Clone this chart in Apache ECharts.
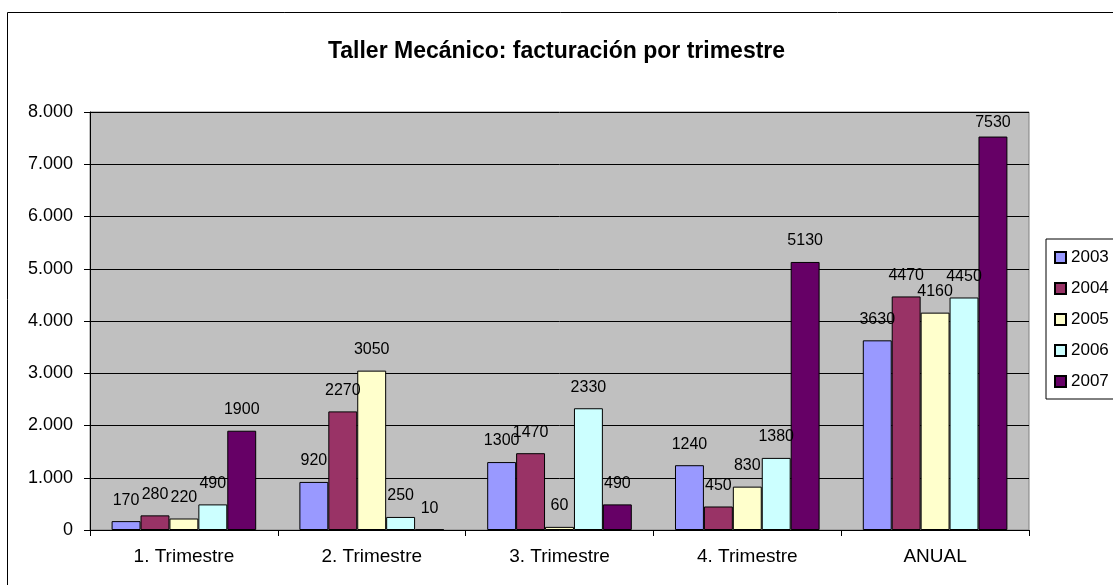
<!DOCTYPE html>
<html>
<head>
<meta charset="utf-8">
<script src="https://cdn.jsdelivr.net/npm/echarts@6/dist/echarts.min.js"></script>
<style>
  html, body { margin: 0; padding: 0; background: #fff; }
  #chart { width: 1113px; height: 585px; }
</style>
</head>
<body>
<div id="chart"></div>
<script>
// Facturación del taller por trimestre y año
const categories = ['1. Trimestre', '2. Trimestre', '3. Trimestre', '4. Trimestre', 'ANUAL'];
const years = ['2003', '2004', '2005', '2006', '2007'];
const v2003 = [170, 920, 1300, 1240, 3630];
const v2004 = [280, 2270, 1470, 450, 4470];
const v2005 = [220, 3050, 60, 830, 4160];
const v2006 = [490, 250, 2330, 1380, 4450];
const v2007 = [1900, 10, 490, 5130, 7530];
const yearColors = ['#9999FF', '#993366', '#FFFFCC', '#CCFFFF', '#660066'];

const valuesByYear = [v2003, v2004, v2005, v2006, v2007];

const fmtThousands = v => String(v).replace(/\B(?=(\d{3})+(?!\d))/g, '.');

const GRID_TOP = 112;
const FONT = 'Liberation Sans, Arial, sans-serif';

const chart = echarts.init(document.getElementById('chart'), null, { renderer: 'canvas' });

chart.setOption({
  animation: false,
  textStyle: { fontFamily: FONT },
  title: {
    text: 'Taller Mecánico: facturación por trimestre',
    left: 'center',
    top: 35,
    textStyle: { fontSize: 23, fontWeight: 'bold', color: '#000', fontFamily: FONT }
  },
  graphic: [{
    type: 'rect',
    shape: { x: 7.5, y: 12.5, width: 1200, height: 700 },
    style: { fill: 'none', stroke: '#000', lineWidth: 1 },
    silent: true,
    z: -10
  }],
  legend: {
    orient: 'vertical',
    left: 1046,
    top: 239,
    padding: [10, 40, 9, 8],
    itemWidth: 11,
    itemHeight: 11,
    itemGap: 14,
    icon: 'rect',
    borderColor: '#000',
    borderWidth: 1,
    backgroundColor: '#fff',
    textStyle: { fontSize: 17, color: '#000' },
    data: years
  },
  grid: { left: 90, right: 84, top: GRID_TOP, bottom: 55, backgroundColor: '#C0C0C0', show: true, borderColor: '#808080', borderWidth: 1 },
  xAxis: {
    type: 'category',
    data: categories,
    axisLine: { lineStyle: { color: '#000', width: 1 } },
    axisTick: { show: true, length: 6, lineStyle: { color: '#000' } },
    axisLabel: { fontSize: 19, color: '#000', margin: 17 }
  },
  yAxis: {
    type: 'value',
    min: 0,
    max: 8000,
    interval: 1000,
    axisLine: { show: true, lineStyle: { color: '#000', width: 1 } },
    axisTick: { show: true, length: 6, lineStyle: { color: '#000' } },
    axisLabel: { fontSize: 18, color: '#000', margin: 17, formatter: fmtThousands },
    splitLine: { lineStyle: { color: '#000', width: 1 } }
  },
  series: years.map((y, i) => ({
    name: y,
    type: 'bar',
    data: valuesByYear[i],
    barGap: '0%',
    barCategoryGap: '23%',
    itemStyle: { color: yearColors[i], borderColor: '#000', borderWidth: 1 },
    label: { show: true, position: 'top', distance: 13, fontSize: 16, color: '#000' },
    // keep value labels inside the plot area
    labelLayout: p => (p.labelRect.y < GRID_TOP + 3 ? { dy: GRID_TOP + 3 - p.labelRect.y } : {})
  }))
});
</script>
</body>
</html>
